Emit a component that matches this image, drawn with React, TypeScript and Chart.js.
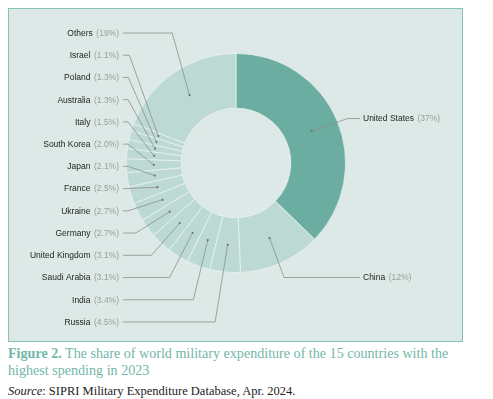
import React, { useEffect, useRef } from "react";
import { Chart, registerables } from "chart.js";

Chart.register(...registerables);

const countries = [
  "United States", "China", "Russia", "India", "Saudi Arabia", "United Kingdom",
  "Germany", "Ukraine", "France", "Japan", "South Korea", "Italy", "Australia",
  "Poland", "Israel", "Others",
];
const shares = [37, 12, 4.5, 3.4, 3.1, 3.1, 2.7, 2.7, 2.5, 2.1, 2.0, 1.5, 1.3, 1.3, 1.1, 19];
const shareLabels = [
  "37%", "12%", "4.5%", "3.4%", "3.1%", "3.1%", "2.7%", "2.7%", "2.5%", "2.1%",
  "2.0%", "1.5%", "1.3%", "1.3%", "1.1%", "19%",
];
// leader line bend (fraction of way from label to dot where elbow sits)
const leaderBend = [0.25, 0.84, 0.88, 0.83, 0.67, 0.5, 0.27, 0.13, 0.06, 0.16, 0.16, 0.16, 0.16, 0.16, 0.18, 0.74];

const COLORS = countries.map((c) => (c === "United States" ? "#6badA1" : "#bdd9d3"));

const labelPlugin = {
  id: "leaderLabels",
  afterDatasetsDraw(chart: any) {
    const ctx = chart.ctx;
    const meta = chart.getDatasetMeta(0);
    const arcs = meta.data;
    const leftTop = 24;
    const leftStep = 22.23;
    const leftTextX = 110;
    const leftLineX = 114;
    const rightTextX = 354;
    const rightLineX = 351;
    const rightYs = [109.5, 268.5];
    ctx.save();
    ctx.font = "8.5px 'Liberation Sans', Arial, sans-serif";
    ctx.textBaseline = "middle";
    const leftIdx: number[] = [];
    const rightIdx: number[] = [];
    arcs.forEach((a: any, i: number) => {
      const mid = (a.startAngle + a.endAngle) / 2;
      if (Math.cos(mid) > 0) rightIdx.push(i);
      else leftIdx.push(i);
    });
    leftIdx.sort((a, b) => b - a);
    const draw = (i: number, ly: number, side: "l" | "r") => {
      const a = arcs[i];
      const mid = (a.startAngle + a.endAngle) / 2;
      const r = (a.innerRadius + a.outerRadius) / 2;
      const dx = a.x + Math.cos(mid) * r;
      const dy = a.y + Math.sin(mid) * r;
      const lx = side === "l" ? leftLineX : rightLineX;
      const ex = lx + (dx - lx) * leaderBend[i];
      ctx.strokeStyle = "#8c918e";
      ctx.lineWidth = 0.8;
      ctx.beginPath();
      ctx.moveTo(lx, ly);
      ctx.lineTo(ex, ly);
      ctx.lineTo(dx, dy);
      ctx.stroke();
      ctx.fillStyle = "#6f7471";
      ctx.beginPath();
      ctx.arc(dx, dy, 1.1, 0, Math.PI * 2);
      ctx.fill();
      const name = countries[i];
      const pct = "(" + shareLabels[i] + ")";
      const nameW = ctx.measureText(name).width;
      const pctW = ctx.measureText(pct).width;
      const gap = 3.5;
      const ty = ly + 0.5;
      ctx.textAlign = "left";
      const start = side === "l" ? leftTextX - pctW - gap - nameW : rightTextX;
      ctx.fillStyle = "#222624";
      ctx.fillText(name, start, ty);
      ctx.fillStyle = "#9a9e9c";
      ctx.fillText(pct, start + nameW + gap, ty);
    };
    leftIdx.forEach((i, k) => draw(i, leftTop + k * leftStep, "l"));
    rightIdx.forEach((i, k) => draw(i, rightYs[k] ?? rightYs[0], "r"));
    ctx.restore();
  },
};

export default function App() {
  const ref = useRef<HTMLCanvasElement | null>(null);
  useEffect(() => {
    if (!ref.current) return;
    const chart = new Chart(ref.current, {
      type: "doughnut",
      data: {
        labels: countries,
        datasets: [
          {
            data: shares,
            backgroundColor: COLORS,
            borderColor: "rgba(236,244,242,0.9)",
            borderWidth: 0.8,
          },
        ],
      },
      options: {
        animation: false,
        responsive: false,
        maintainAspectRatio: false,
        cutout: "50%",
        layout: { padding: { top: 44, bottom: 68, left: 110, right: 109 } },
        plugins: { legend: { display: false }, tooltip: { enabled: false } },
      },
      plugins: [labelPlugin],
    });
    return () => chart.destroy();
  }, []);
  return (
    <div>
      <div
        style={{
          width: 453,
          height: 332,
          border: "1.5px solid #86c3b4",
          background: "#dde9e6",
          boxSizing: "content-box",
        }}
      >
        <canvas ref={ref} width={453} height={332} style={{ display: "block", width: 453, height: 332 }} />
      </div>
      <div
        style={{
          fontFamily: "'Liberation Serif', 'Times New Roman', serif",
          fontSize: 14.1,
          lineHeight: "17px",
          color: "#72b7a8",
          marginTop: 3,
          width: 448,
        }}
      >
        <b>Figure 2.</b> The share of world military expenditure of the 15 countries with the highest spending in 2023
      </div>
      <div
        style={{
          fontFamily: "'Liberation Serif', 'Times New Roman', serif",
          fontSize: 12.5,
          lineHeight: "17px",
          color: "#222",
          marginTop: 4,
        }}
      >
        <i>Source</i>: SIPRI Military Expenditure Database, Apr. 2024.
      </div>
    </div>
  );
}
